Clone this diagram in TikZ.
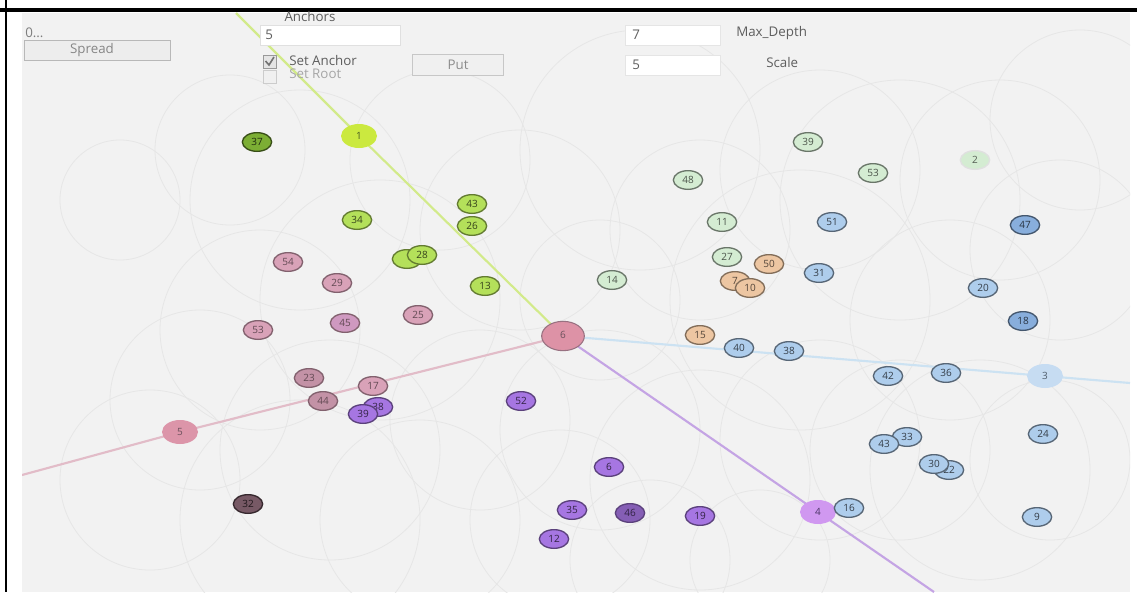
\documentclass[tikz,border=0pt]{standalone}
\usepackage{xcolor}
\usepackage{fontspec}
\setmainfont{Open Sans}
\usepackage{tikz}
\usetikzlibrary{calc, shapes.geometric}

\definecolor{panel}{HTML}{F2F2F2}
\definecolor{ring}{HTML}{E6E6E6}
\definecolor{uitext}{HTML}{5E5E5E}
\definecolor{limeax}{HTML}{D2EA8A}
\definecolor{pinkax}{HTML}{E2BCC8}
\definecolor{violax}{HTML}{C4A4E4}
\definecolor{skyax}{HTML}{CCE2F2}
\definecolor{limefill}{HTML}{B4E05A}
\definecolor{limedeep}{HTML}{7CAE34}
\definecolor{palefill}{HTML}{D4ECD2}
\definecolor{orfill}{HTML}{EDC6A2}
\definecolor{bluefill}{HTML}{AECDEC}
\definecolor{bluedeep}{HTML}{88AEDC}
\definecolor{violfill}{HTML}{A676E2}
\definecolor{mauvefill}{HTML}{D9A2B8}

\begin{document}
\begin{tikzpicture}[x=0.75pt,y=-0.75pt,
   every node/.append style={font=\fontsize{7.5}{8}\selectfont},
   bubble/.style={ellipse,draw,line width=1pt,inner sep=0pt,minimum width=22pt,minimum height=14pt},
   lime/.style={bubble,fill=limefill,draw=limefill!55!black,text=limefill!30!black},
   limedark/.style={bubble,fill=limedeep,draw=limedeep!45!black,text=limedeep!25!black},
   pale/.style={bubble,fill=palefill,draw=palefill!50!black,text=palefill!35!black},
   orng/.style={bubble,fill=orfill,draw=orfill!55!black,text=orfill!35!black},
   sky/.style={bubble,fill=bluefill,draw=bluefill!50!black,text=bluefill!30!black},
   skydeep/.style={bubble,fill=bluedeep,draw=bluedeep!50!black,text=bluedeep!30!black},
   viol/.style={bubble,fill=violfill,draw=violfill!55!black,text=violfill!30!black},
   mauve/.style={bubble,fill=mauvefill,draw=mauvefill!60!black,text=mauvefill!45!black},
   mauvedark/.style={bubble,fill=mauvefill!55!black,draw=mauvefill!25!black,text=mauvefill!15!black},
   anchornode/.style={ellipse,inner sep=0pt,minimum width=27pt,minimum height=18pt},
   axis/.style={line width=1.6pt},
   uibox/.style={draw=#1,line width=0.6pt},
   uilabel/.style={text=uitext,font=\fontsize{10}{11}\selectfont,inner sep=0pt}]
   \useasboundingbox (0,0) rectangle (1137,592);
   \fill[white] (0,0) rectangle (1137,592);
   \fill[panel] (22,13) rectangle (1130,592);

   \begin{scope}
      \clip (22,13) rectangle (1130,592);
      % faint rings
      \foreach \cx/\cy/\r in {230/150/75, 300/200/110, 440/160/90, 520/230/100,
         640/150/120, 700/230/90, 820/170/100, 900/200/120, 1000/180/100,
         1060/250/90, 380/300/120, 260/330/100, 200/400/90, 330/450/110,
         480/420/90, 600/430/100, 700/480/110, 820/440/100, 900/450/90,
         980/470/110, 1050/460/80, 560/520/90, 650/560/80, 420/520/100,
         300/520/120, 800/300/130, 950/320/100, 120/200/60, 150/480/90,
         760/560/70, 600/300/80, 1080/120/90}
         \draw[ring,line width=0.6pt] (\cx,\cy) circle[radius=\r*0.75pt];

      % anchor axes
      \coordinate (pc) at (563,336);
      \coordinate (p1) at (359,136);
      \coordinate (p5) at (180,432);
      \coordinate (p4) at (818,512);
      \coordinate (p3) at (1045,376);
      \coordinate (ltop) at (236,13);
      \coordinate (pleft) at (22,475);
      \coordinate (vbot) at (934,592);
      \coordinate (sright) at (1130,383);
      \draw[axis,limeax] (ltop) -- (p1) -- (pc);
      \draw[axis,pinkax] (pleft) -- (p5) -- (pc);
      \draw[axis,violax] (pc) -- (p4) -- (vbot);
      \draw[axis,skyax] (pc) -- (p3) -- (sright);
   \end{scope}

   % frame
   \draw[black,line width=2pt] (6,0) -- (6,592);
   \draw[black,line width=2.4pt] (0,10) -- (1137,10);

   % controls
   \node[uilabel,anchor=west,text=uitext!80] (dots) at (25,33) {0...};
   \draw[uibox=black!28,fill=black!7] (24,40) rectangle (170,60);
   \node[uilabel,text=uitext!75] (spread) at (92,50) {Spread};
   \node[uilabel] (anch) at (310,17) {Anchors};
   \draw[uibox=black!12,fill=white] (260,25) rectangle (400,45);
   \node[uilabel,anchor=west] (anchval) at (265,35) {5};
   \draw[uibox=black!40,fill=black!10] (263,55) rectangle (276,68);
   \draw[black!55,line width=1.2pt] (265.5,61) -- (269,65) -- (274,57);
   \node[uilabel,anchor=west] (setanch) at (289,60) {Set Anchor};
   \draw[uibox=black!20,fill=black!6] (263,70) rectangle (276,83);
   \node[uilabel,anchor=west,text=black!35] (setroot) at (289,74) {Set Root};
   \draw[uibox=black!22,fill=black!6] (412,54) rectangle (503,75);
   \node[uilabel,text=black!45] (put) at (458,65) {Put};
   \draw[uibox=black!10,fill=white] (625,25) rectangle (720,45);
   \node[uilabel,anchor=west] (depthval) at (632,35) {7};
   \node[uilabel,anchor=west] (depth) at (736,33) {Max\_Depth};
   \draw[uibox=black!10,fill=white] (625,55) rectangle (720,75);
   \node[uilabel,anchor=west] (scaleval) at (632,65) {5};
   \node[uilabel,anchor=west] (scale) at (766,63) {Scale};

   % anchors
   \node[anchornode,fill=limefill!70!yellow,text=limefill!40!black] (a1) at (p1) {1};
   \node[anchornode,fill=mauvefill!90!red,draw=mauvefill!70!black,line width=0.8pt,minimum width=32pt,minimum height=22pt,text=mauvefill!50!black] (a6) at (pc) {\raisebox{2pt}{6}\hspace{10pt}};
   \node[anchornode,fill=mauvefill!92!red,text=mauvefill!50!black] (a5) at (p5) {5};
   \node[anchornode,fill=violfill!60!white!88!magenta,text=violfill!45!black] (a4) at (p4) {4};
   \node[anchornode,fill=bluefill!70!white,text=bluefill!45!black] (a3) at (p3) {3};

   % lime group
   \node[limedark] (l37) at (257,142) {37};
   \node[lime] (l43) at (472,204) {43};
   \node[lime] (l26) at (472,226) {26};
   \node[lime] (l34) at (357,220) {34};
   \node[lime] (l28b) at (407,259) {};
   \node[lime] (l28) at (422,255) {28};
   \node[lime] (l13) at (485,286) {13};

   % pale group
   \node[pale] (p39) at (808,142) {39};
   \node[pale] (p53) at (873,173) {53};
   \node[pale] (p48) at (688,180) {48};
   \node[pale] (p11) at (722,222) {11};
   \node[pale] (p27) at (727,257) {27};
   \node[pale] (p14) at (612,280) {14};
   \node[pale,draw=black!12,text=palefill!40!black] (p2) at (975,160) {2};

   % orange group
   \node[orng] (o50) at (769,264) {50};
   \node[orng] (o7) at (735,281) {7};
   \node[orng] (o10) at (750,288) {10};
   \node[orng] (o15) at (700,335) {15};

   % blue group
   \node[sky] (b51) at (832,222) {51};
   \node[skydeep] (b47) at (1025,225) {47};
   \node[sky] (b31) at (819,273) {31};
   \node[sky] (b20) at (983,288) {20};
   \node[skydeep] (b18) at (1023,321) {18};
   \node[sky] (b40) at (739,348) {40};
   \node[sky] (b38) at (789,351) {38};
   \node[sky] (b42) at (888,376) {42};
   \node[sky] (b36) at (946,373) {36};
   \node[sky] (b33) at (907,437) {33};
   \node[sky] (b43) at (884,444) {43};
   \node[sky] (b24) at (1043,434) {24};
   \node[sky] (b22) at (949,470) {22};
   \node[sky] (b30) at (934,464) {30};
   \node[sky] (b16) at (849,508) {16};
   \node[sky] (b9) at (1037,517) {9};

   % violet group
   \node[viol] (v52) at (521,401) {52};
   \node[viol] (v38) at (378,407) {38};
   \node[viol] (v39) at (363,414) {39};
   \node[viol] (v6) at (609,467) {6};
   \node[viol] (v35) at (572,510) {35};
   \node[viol,fill=violfill!80!black] (v46) at (630,513) {46};
   \node[viol] (v19) at (700,516) {19};
   \node[viol] (v12) at (554,539) {12};

   % mauve group
   \node[mauve] (m54) at (288,262) {54};
   \node[mauve] (m29) at (337,283) {29};
   \node[mauve] (m53) at (258,330) {53};
   \node[mauve,fill=mauvefill!80!violfill] (m45) at (345,323) {45};
   \node[mauve] (m25) at (418,315) {25};
   \node[mauve,fill=mauvefill!90!black] (m23) at (309,378) {23};
   \node[mauve] (m17) at (373,386) {17};
   \node[mauve,fill=mauvefill!90!black] (m44) at (323,401) {44};
   \node[mauvedark] (m32) at (248,504) {32};
\end{tikzpicture}
\end{document}
